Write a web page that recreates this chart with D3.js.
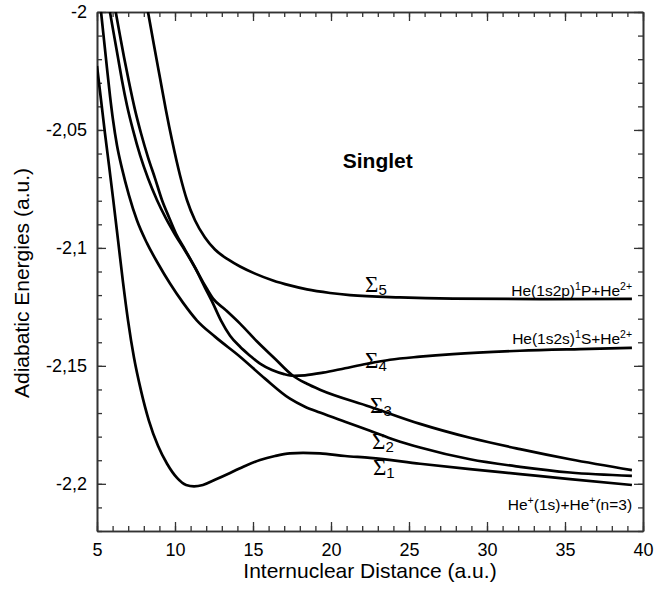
<!DOCTYPE html>
<html>
<head>
<meta charset="utf-8">
<script src="https://cdn.jsdelivr.net/npm/d3@7"></script>
<style>
body { margin: 0; background: #fff; }
svg { display: block; }
text { font-family: "Liberation Sans", Arial, Helvetica, sans-serif; fill: #000; }
</style>
</head>
<body>
<svg width="654" height="592"></svg>
<script>
// curves: R = internuclear distance (a.u.), E = energy (a.u.)
var sigma1R = [5.0, 5.26, 5.51, 5.77, 6.03, 6.35, 6.67, 6.99, 7.37, 7.82, 8.33, 8.91, 9.49, 10.13, 10.71, 11.22, 11.79, 12.56, 13.53, 14.49, 15.45, 16.41, 17.37, 18.21, 19.29, 20.90, 22.5, 25.71, 28.91, 32.12, 35.32, 39.29];
var sigma1E = [-2.0229, -2.0374, -2.0514, -2.0650, -2.0790, -2.0968, -2.1147, -2.1308, -2.1465, -2.1605, -2.1733, -2.1839, -2.1915, -2.1975, -2.2005, -2.2011, -2.2005, -2.1983, -2.1954, -2.1924, -2.1899, -2.1882, -2.1871, -2.1869, -2.1871, -2.1882, -2.1890, -2.1915, -2.1938, -2.1959, -2.1980, -2.2005];

var sigma2R = [5.26, 5.45, 5.64, 5.83, 6.03, 6.28, 6.60, 7.05, 7.56, 8.21, 8.91, 9.68, 10.51, 11.41, 12.56, 14.17, 15.77, 17.37, 18.33, 19.29, 20.90, 22.5, 24.10, 25.71, 28.91, 32.12, 35.32, 39.29];
var sigma2E = [-2.0, -2.0119, -2.0238, -2.0353, -2.0459, -2.0565, -2.0663, -2.0777, -2.0883, -2.0981, -2.1066, -2.1151, -2.1232, -2.1308, -2.1376, -2.1461, -2.1554, -2.1639, -2.1673, -2.1698, -2.1737, -2.1775, -2.1814, -2.1846, -2.1896, -2.1928, -2.1952, -2.1966];

var sigma3R = [5.83, 6.09, 6.35, 6.60, 6.92, 7.31, 7.76, 8.27, 8.85, 9.42, 10.0, 10.64, 11.28, 11.92, 12.44, 13.21, 14.17, 15.26, 16.41, 17.56, 18.46, 19.29, 22.5, 25.71, 28.91, 32.12, 35.32, 39.29];
var sigma3E = [-2.0, -2.0098, -2.0195, -2.0289, -2.0395, -2.0501, -2.0607, -2.0705, -2.0798, -2.0875, -2.0943, -2.1011, -2.1083, -2.1159, -2.1215, -2.1261, -2.1321, -2.1397, -2.1470, -2.1542, -2.1576, -2.1601, -2.1673, -2.1746, -2.1805, -2.1853, -2.1896, -2.1942];

var sigma4R = [6.20, 6.47, 6.73, 7.05, 7.44, 7.82, 8.27, 8.72, 9.17, 9.62, 10.06, 10.64, 11.28, 11.92, 12.44, 12.95, 13.53, 14.17, 14.81, 15.45, 16.22, 16.99, 17.63, 18.33, 19.49, 20.90, 22.31, 23.78, 25.71, 27.82, 32.12, 35.96, 39.29];
var sigma4E = [-2.0, -2.0098, -2.0191, -2.0297, -2.0416, -2.0514, -2.0616, -2.0705, -2.0798, -2.0871, -2.0939, -2.1007, -2.1083, -2.1168, -2.1236, -2.1308, -2.1372, -2.1419, -2.1457, -2.1491, -2.1518, -2.1535, -2.1542, -2.1540, -2.1529, -2.1510, -2.1491, -2.1474, -2.1461, -2.1450, -2.1436, -2.1429, -2.1424];

var sigma5R = [8.27, 8.65, 9.04, 9.42, 9.81, 10.32, 10.77, 11.28, 11.92, 12.56, 13.40, 14.17, 15.13, 16.28, 17.37, 18.46, 19.94, 21.22, 24.42, 27.82, 33.40, 39.29];
var sigma5E = [-2.0, -2.0140, -2.0280, -2.0416, -2.0544, -2.0692, -2.0798, -2.0883, -2.0956, -2.1007, -2.1049, -2.1079, -2.1109, -2.1138, -2.1159, -2.1176, -2.1191, -2.1200, -2.1210, -2.1215, -2.1217, -2.1216];

var sigmaNames = ['1', '2', '3', '4', '5'];
var sigmaLabelR = [22.69, 22.63, 22.5, 22.18, 22.18];
var sigmaLabelE = [-2.1962, -2.1852, -2.1699, -2.1508, -2.1185];

var xMajor = [5, 10, 15, 20, 25, 30, 35, 40];
var xMinor = d3.range(5, 41, 1);
var yMajor = [-2, -2.05, -2.1, -2.15, -2.2];
var yTickLabels = ['-2', '-2,05', '-2,1', '-2,15', '-2,2'];
var yMinor = d3.range(0, 23).map(function (i) { return -2 - i * 0.01; });

var svg = d3.select('svg');
var width = +svg.attr('width');
var height = +svg.attr('height');
var margin = { top: 12, right: 11, bottom: 61, left: 97 };

var x = d3.scaleLinear().domain([5, 40]).range([margin.left, width - margin.right]);
var y = d3.scaleLinear().domain([-2.22, -2]).range([height - margin.bottom, margin.top]);

svg.append('clipPath').attr('id', 'plot')
    .append('rect')
    .attr('x', x(5)).attr('y', y(-2))
    .attr('width', x(40) - x(5)).attr('height', y(-2.22) - y(-2));

var line = d3.line()
    .x(function (d) { return x(d[0]); })
    .y(function (d) { return y(d[1]); })
    .curve(d3.curveMonotoneX);

var curves = [
    d3.zip(sigma1R, sigma1E),
    d3.zip(sigma2R, sigma2E),
    d3.zip(sigma3R, sigma3E),
    d3.zip(sigma4R, sigma4E),
    d3.zip(sigma5R, sigma5E)
];

var axisColor = '#333';

// framed box, ticks pointing inward on all four sides
function addAxis(make, transform, showLabels, isY) {
    var minor = make(isY ? y : x).tickValues(isY ? yMinor : xMinor)
        .tickSize(-5).tickSizeOuter(0).tickFormat('');
    var major = make(isY ? y : x).tickValues(isY ? yMajor : xMajor)
        .tickSize(-9).tickSizeOuter(0).tickPadding(isY ? 10 : 12)
        .tickFormat(function (d, i) {
            if (!showLabels) return '';
            return isY ? yTickLabels[i] : d;
        });
    var g1 = svg.append('g').attr('transform', transform).call(minor);
    var g2 = svg.append('g').attr('transform', transform).call(major);
    [g1, g2].forEach(function (g) {
        g.select('.domain').attr('stroke', axisColor).attr('stroke-width', 1.6);
        g.selectAll('.tick line').attr('stroke', axisColor).attr('stroke-width', 1.3);
        g.selectAll('.tick text')
            .attr('font-size', 18)
            .attr('font-family', '"Liberation Sans", Arial, sans-serif')
            .attr('fill', '#000');
    });
}

addAxis(d3.axisBottom, 'translate(0,' + y(-2.22) + ')', true, false);
addAxis(d3.axisTop, 'translate(0,' + y(-2) + ')', false, false);
addAxis(d3.axisLeft, 'translate(' + x(5) + ',0)', true, true);
addAxis(d3.axisRight, 'translate(' + x(40) + ',0)', false, true);

svg.append('g')
    .attr('clip-path', 'url(#plot)')
    .selectAll('path')
    .data(curves)
    .enter().append('path')
    .attr('d', function (d) { return line(d); })
    .attr('fill', 'none')
    .attr('stroke', '#000')
    .attr('stroke-width', 2.7)
    .attr('stroke-linejoin', 'round');

// Sigma labels
var sig = svg.append('g').selectAll('text')
    .data(sigmaNames)
    .enter().append('text')
    .attr('x', function (d, i) { return x(sigmaLabelR[i]); })
    .attr('y', function (d, i) { return y(sigmaLabelE[i]); });
sig.append('tspan')
    .attr('font-family', '"Liberation Serif", "DejaVu Serif", serif')
    .attr('font-size', 23)
    .text('\u03A3');
sig.append('tspan')
    .attr('font-size', 15)
    .attr('dy', 3)
    .text(function (d) { return d; });

// asymptote labels
var asymptotes = [
    { e: -2.1202, parts: [['He(1s2p)', 0], ['1', 1], ['P+He', 0], ['2+', 1]] },
    { e: -2.1406, parts: [['He(1s2s)', 0], ['1', 1], ['S+He', 0], ['2+', 1]] },
    { e: -2.2111, parts: [['He', 0], ['+', 1], ['(1s)+He', 0], ['+', 1], ['(n=3)', 0]] }
];

asymptotes.forEach(function (a) {
    var t = svg.append('text')
        .attr('x', x(39.3))
        .attr('y', y(a.e))
        .attr('text-anchor', 'end')
        .attr('font-size', 15.5);
    var up = false;
    a.parts.forEach(function (p) {
        var s = t.append('tspan').text(p[0]);
        if (p[1] && !up) { s.attr('dy', -6).attr('font-size', 10.5); up = true; }
        else if (p[1]) { s.attr('font-size', 10.5); }
        else if (up) { s.attr('dy', 6); up = false; }
    });
});

svg.append('text')
    .attr('x', x(23.0))
    .attr('y', y(-2.0663))
    .attr('text-anchor', 'middle')
    .attr('font-size', 21)
    .attr('font-weight', 'bold')
    .text('Singlet');

svg.append('text')
    .attr('x', (x(5) + x(40)) / 2)
    .attr('y', height - 14)
    .attr('text-anchor', 'middle')
    .attr('font-size', 21)
    .text('Internuclear Distance (a.u.)');

svg.append('text')
    .attr('transform', 'translate(29,283) rotate(-90)')
    .attr('text-anchor', 'middle')
    .attr('font-size', 21)
    .text('Adiabatic Energies (a.u.)');
</script>
</body>
</html>
